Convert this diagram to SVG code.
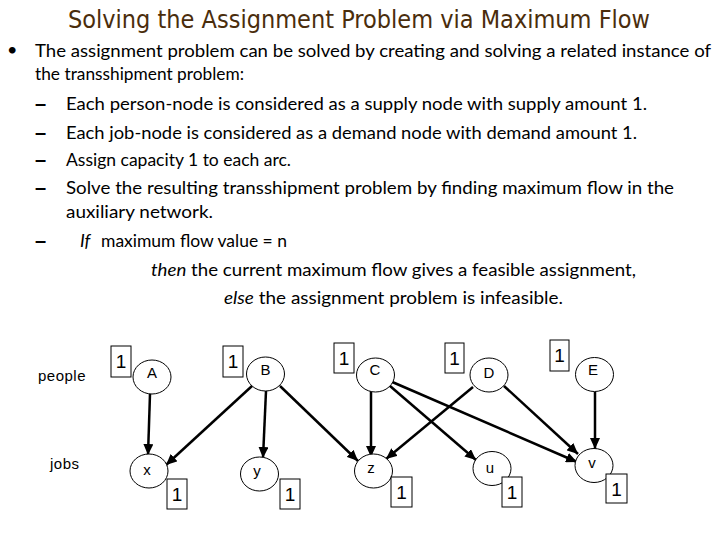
<svg xmlns="http://www.w3.org/2000/svg" width="720" height="540" viewBox="0 0 720 540">
<style>
.title{font-family:"Comic Sans MS","DejaVu Sans",sans-serif;font-size:24px;fill:#4a2d0c}
.body{font-family:Lato,"Liberation Sans",sans-serif;font-size:18px;fill:#000}
.dash{font-family:"Liberation Sans",sans-serif;font-size:20px;font-weight:bold;fill:#000}
.lbl{font-family:"Liberation Sans",Arial,sans-serif;font-size:15px;fill:#000;text-anchor:middle}
.side{font-family:"Liberation Sans",Arial,sans-serif;font-size:15px;fill:#000;letter-spacing:0.5px}
.num{font-family:"Liberation Sans",Arial,sans-serif;font-size:19px;fill:#000;text-anchor:middle}
.node{fill:#fff;stroke:#000;stroke-width:1}
.box{fill:#fff;stroke:#000;stroke-width:1}
.edge{stroke:#000;stroke-width:2.5;fill:none;marker-end:url(#ah)}
</style>
<defs>
<marker id="ah" markerUnits="userSpaceOnUse" markerWidth="12" markerHeight="10" refX="11" refY="5" orient="auto">
<path d="M0,0 L11,5 L0,10 Z" fill="#000"/>
</marker>
</defs>
<rect width="720" height="540" fill="#fff"/>
<text class="title" x="68" y="28" textLength="582" lengthAdjust="spacingAndGlyphs">Solving the Assignment Problem via Maximum Flow</text>
<g id="text-block">
<text class="body" x="7" y="56" font-size="13">•</text>
<text class="body" x="35" y="57" textLength="676" lengthAdjust="spacingAndGlyphs">The assignment problem can be solved by creating and solving a related instance of</text>
<text class="body" x="35" y="80" textLength="209" lengthAdjust="spacingAndGlyphs">the transshipment problem:</text>
<text class="dash" x="35" y="110">–</text>
<text class="body" x="66" y="110" textLength="581" lengthAdjust="spacingAndGlyphs">Each person-node is considered as a supply node with supply amount 1.</text>
<text class="dash" x="35" y="139">–</text>
<text class="body" x="66" y="139" textLength="571" lengthAdjust="spacingAndGlyphs">Each job-node is considered as a demand node with demand amount 1.</text>
<text class="dash" x="35" y="166">–</text>
<text class="body" x="66" y="166" textLength="225" lengthAdjust="spacingAndGlyphs">Assign capacity 1 to each arc.</text>
<text class="dash" x="35" y="194">–</text>
<text class="body" x="66" y="194" textLength="608" lengthAdjust="spacingAndGlyphs">Solve the resulting transshipment problem by finding maximum flow in the</text>
<text class="body" x="66" y="218" textLength="147" lengthAdjust="spacingAndGlyphs">auxiliary network.</text>
<text class="dash" x="35" y="247">–</text>
<text class="body" x="80" y="247" font-style="italic">If</text>
<text class="body" x="101" y="247" textLength="186" lengthAdjust="spacingAndGlyphs">maximum flow value = n</text>
<text class="body" x="151" y="276" textLength="485" lengthAdjust="spacingAndGlyphs"><tspan font-style="italic">then</tspan> the current maximum flow gives a feasible assignment,</text>
<text class="body" x="224" y="304" textLength="339" lengthAdjust="spacingAndGlyphs"><tspan font-style="italic">else</tspan> the assignment problem is infeasible.</text>
</g>
<text class="side" x="38" y="381">people</text>
<text class="side" x="50" y="469">jobs</text>
<g id="connectors">
<line class="edge" x1="150" y1="394" x2="148" y2="455"/>
<line class="edge" x1="252" y1="386" x2="166" y2="465"/>
<line class="edge" x1="266" y1="391" x2="263" y2="458"/>
<line class="edge" x1="280" y1="386" x2="358" y2="461"/>
<line class="edge" x1="371" y1="389" x2="371" y2="457"/>
<line class="edge" x1="390" y1="386" x2="476" y2="460"/>
<line class="edge" x1="390" y1="381" x2="577" y2="462"/>
<line class="edge" x1="473" y1="387" x2="386" y2="459"/>
<line class="edge" x1="504" y1="386" x2="578" y2="454"/>
<line class="edge" x1="595" y1="392" x2="595" y2="449"/>
</g>
<g id="node-A"><ellipse class="node" cx="152" cy="377" rx="19" ry="17"/><text class="lbl" x="152" y="378">A</text>
<rect class="box" x="111" y="346" width="20" height="31"/><text class="num" x="121" y="368">1</text></g>
<g id="node-B"><ellipse class="node" cx="265.5" cy="374" rx="19" ry="17"/><text class="lbl" x="265.5" y="375">B</text>
<rect class="box" x="223" y="346" width="20" height="31"/><text class="num" x="233" y="368">1</text></g>
<g id="node-C"><ellipse class="node" cx="375.5" cy="375" rx="19" ry="17"/><text class="lbl" x="375" y="375">C</text>
<rect class="box" x="334" y="343" width="20" height="30"/><text class="num" x="344" y="365">1</text></g>
<g id="node-D"><ellipse class="node" cx="489" cy="375" rx="19" ry="17"/><text class="lbl" x="489" y="378">D</text>
<rect class="box" x="445" y="343" width="19" height="30"/><text class="num" x="454.5" y="365">1</text></g>
<g id="node-E"><ellipse class="node" cx="594.5" cy="374.5" rx="19" ry="17"/><text class="lbl" x="593" y="375">E</text>
<rect class="box" x="550" y="340" width="19" height="31"/><text class="num" x="559.5" y="362">1</text></g>
<g id="node-x"><ellipse class="node" cx="149" cy="471" rx="19" ry="17"/><text class="lbl" x="147" y="475">x</text>
<rect class="box" x="167" y="479" width="20" height="30"/><text class="num" x="177" y="501">1</text></g>
<g id="node-y"><ellipse class="node" cx="259.5" cy="474" rx="19" ry="17"/><text class="lbl" x="257" y="476">y</text>
<rect class="box" x="280" y="479" width="20" height="30"/><text class="num" x="290" y="501">1</text></g>
<g id="node-z"><ellipse class="node" cx="373.5" cy="471" rx="19" ry="17"/><text class="lbl" x="371" y="473">z</text>
<rect class="box" x="391" y="477" width="21" height="30"/><text class="num" x="401.5" y="499">1</text></g>
<g id="node-u"><ellipse class="node" cx="492" cy="468.5" rx="19" ry="17"/><text class="lbl" x="490" y="473">u</text>
<rect class="box" x="502" y="477" width="20" height="30"/><text class="num" x="512" y="499">1</text></g>
<g id="node-v"><ellipse class="node" cx="594" cy="465.5" rx="19" ry="17"/><text class="lbl" x="592" y="468">v</text>
<rect class="box" x="606" y="474" width="21" height="29"/><text class="num" x="616.5" y="496">1</text></g>
</svg>
